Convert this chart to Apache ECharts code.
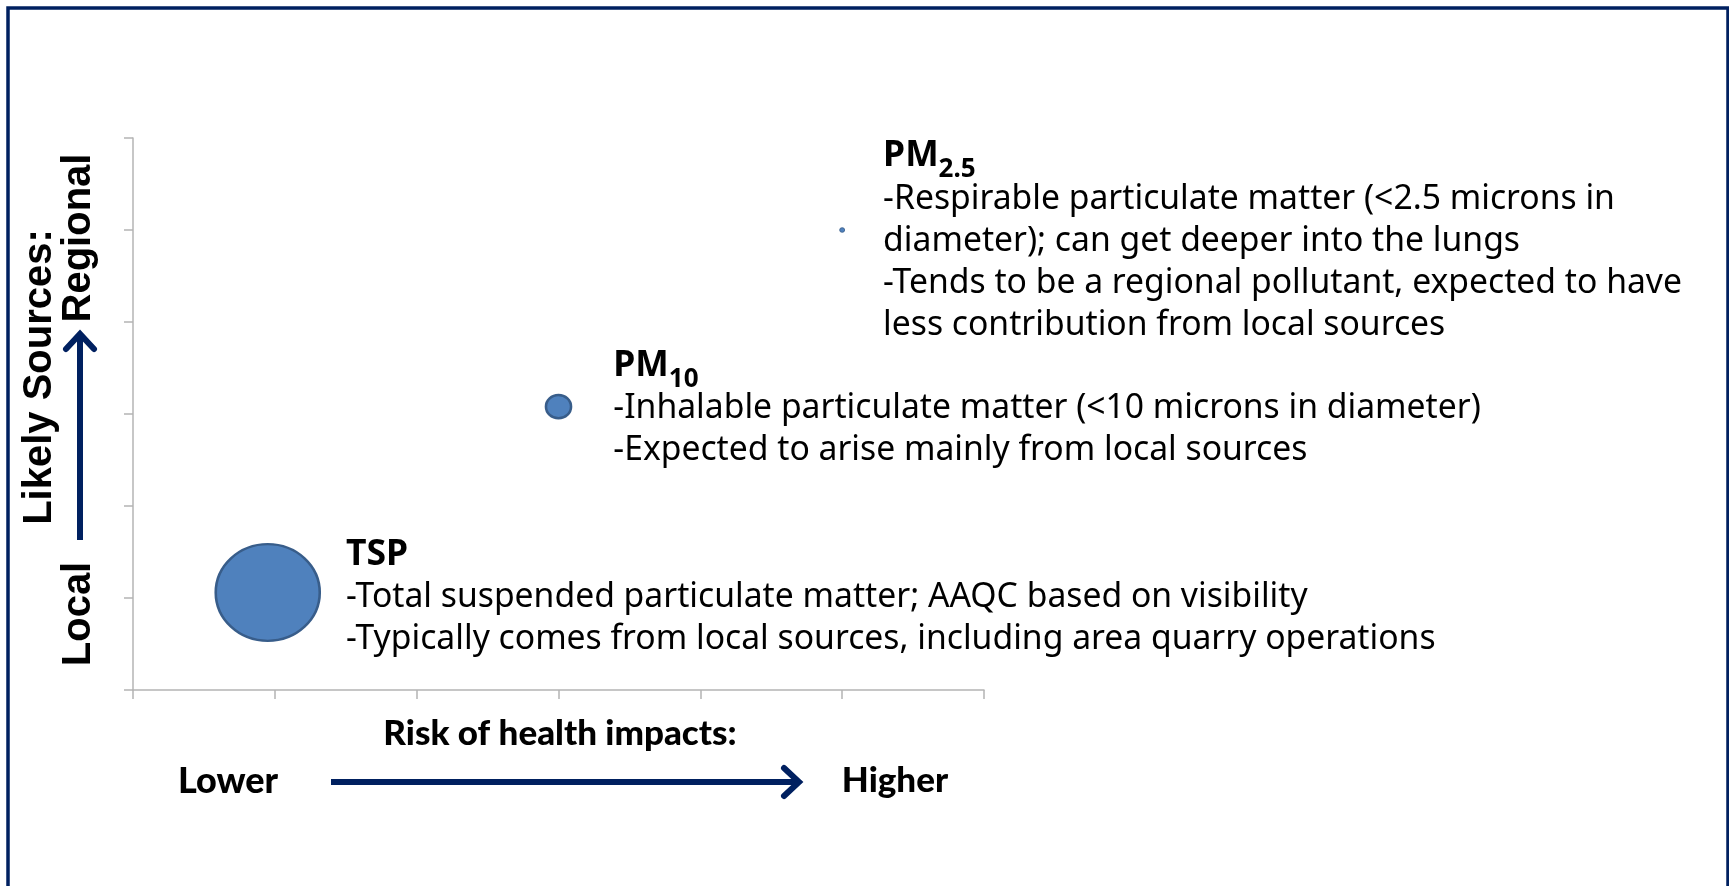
<!DOCTYPE html>
<html>
<head>
<meta charset="utf-8">
<title>Particulate matter: health risk vs. likely sources</title>
<script src="https://cdn.jsdelivr.net/npm/echarts@6/dist/echarts.min.js"></script>
<style>
  html, body { margin: 0; padding: 0; background: #ffffff; }
  #chart { width: 1729px; height: 886px; }
</style>
</head>
<body>
<div id="chart"></div>
<script>
// Pollutant categories and their placement on the two qualitative axes
const categories = ['TSP', 'PM10', 'PM2.5'];
const titleMain = ['TSP', 'PM', 'PM'];
const titleSub = ['', '10', '2.5'];
// x: risk of health impacts (lower -> higher), y: likely sources (local -> regional)
const riskX = [0.95, 3.0, 5.0];
const sourceY = [1.06, 3.08, 5.0];
// relative bubble magnitude (area)
const bubbleMagnitude = [100, 5.8, 0.23];
const descriptions = [
  ['-Total suspended particulate matter; AAQC based on visibility',
   '-Typically comes from local sources, including area quarry operations'],
  ['-Inhalable particulate matter (<10 microns in diameter)',
   '-Expected to arise mainly from local sources'],
  ['-Respirable particulate matter (<2.5 microns in',
   'diameter); can get deeper into the lungs',
   '-Tends to be a regional pollutant, expected to have',
   'less contribution from local sources']
];
// axis scale (no tick labels are drawn)
const axisMin = 0;
const axisMax = 6;
const axisStep = 1;
const xTitle = 'Risk of health impacts:';
const xLow = 'Lower';
const xHigh = 'Higher';
const yTitle = 'Likely Sources:';
const yLow = 'Local';
const yHigh = 'Regional';

// label placement next to each bubble: [gap from bubble edge, vertical nudge]
const labelNudge = [[25, 6], [41, 3], [38, 12]];

const navy = '#002060';
const axisGray = '#b4b4b4';
const bodyFont = "'Noto Sans', 'Open Sans', sans-serif";
const captionFont = "Lato, 'Noto Sans', sans-serif";
const arialBold = "'Liberation Sans', Arial, sans-serif";

const chart = echarts.init(document.getElementById('chart'), null, { renderer: 'canvas' });

// bubble area follows the magnitude; drawn slightly flattened like the source graphic
const bubbleDiameter = (m) => Math.sqrt(m) * 10.4;
const bubbleSize = (m) => { const d = bubbleDiameter(m); return [d, d * 0.93]; };

const seriesData = categories.map((name, i) => {
  const d = bubbleDiameter(bubbleMagnitude[i]);
  const head = '{t|' + titleMain[i] + '}' + (titleSub[i] ? '{s|' + titleSub[i] + '}' : '');
  const body = descriptions[i].map((line) => '{b|' + line + '}').join('\n');
  return {
    name: name,
    value: [riskX[i], sourceY[i], bubbleMagnitude[i]],
    itemStyle: { borderWidth: Math.min(2.5, d / 6) },
    label: {
      distance: labelNudge[i][0],
      offset: [0, labelNudge[i][1]],
      formatter: head + '\n' + body
    }
  };
});

const axisCommon = {
  type: 'value',
  min: axisMin,
  max: axisMax,
  interval: axisStep,
  axisLine: { show: true, onZero: false, lineStyle: { color: axisGray, width: 1.5 } },
  axisTick: { show: true, inside: false, length: 9, lineStyle: { color: axisGray, width: 1.5 } },
  axisLabel: { show: false },
  splitLine: { show: false }
};

const centered = { align: 'center', verticalAlign: 'middle', textAlign: 'center', textVerticalAlign: 'middle', fill: '#000' };

const option = {
  animation: false,
  backgroundColor: '#ffffff',
  grid: { left: 133, top: 138, width: 851, height: 552, outerBoundsMode: 'none' },
  xAxis: Object.assign({}, axisCommon),
  yAxis: Object.assign({}, axisCommon),
  series: [{
    type: 'scatter',
    data: seriesData,
    symbol: 'circle',
    symbolSize: (val) => bubbleSize(val[2]),
    itemStyle: { color: '#4f81bd', borderColor: '#385d8a', opacity: 1 },
    emphasis: { disabled: true },
    label: {
      show: true,
      position: 'right',
      align: 'left',
      verticalAlign: 'middle',
      rich: {
        t: { fontFamily: bodyFont, fontSize: 35.5, fontWeight: 'bold', color: '#000', lineHeight: 40, verticalAlign: 'top' },
        s: { fontFamily: bodyFont, fontSize: 26, fontWeight: 'bold', color: '#000', lineHeight: 26, padding: [19, 0, 0, 0], verticalAlign: 'top' },
        b: { fontFamily: bodyFont, fontSize: 33.7, color: '#000', lineHeight: 42 }
      }
    }
  }],
  graphic: [
    // outer frame
    { type: 'rect', shape: { x: 8, y: 8, width: 1720, height: 900 },
      style: { fill: null, stroke: navy, lineWidth: 3.5 }, silent: true },
    // vertical axis caption
    { type: 'text', x: 40, y: 377, rotation: Math.PI / 2,
      style: Object.assign({ text: yTitle, font: 'bold 40px ' + arialBold }, centered) },
    { type: 'text', x: 79, y: 238, rotation: Math.PI / 2,
      style: Object.assign({ text: yHigh, font: 'bold 40px ' + arialBold }, centered) },
    { type: 'text', x: 79, y: 614, rotation: Math.PI / 2,
      style: Object.assign({ text: yLow, font: 'bold 40px ' + arialBold }, centered) },
    { type: 'line', shape: { x1: 80, y1: 540, x2: 80, y2: 334 },
      style: { stroke: navy, lineWidth: 6 } },
    { type: 'polyline', shape: { points: [[66, 349], [80, 334], [94, 349]] },
      style: { fill: null, stroke: navy, lineWidth: 6, lineCap: 'round', lineJoin: 'miter' } },
    // horizontal axis caption
    { type: 'text', x: 560, y: 734,
      style: Object.assign({ text: xTitle, font: '900 35px ' + captionFont }, centered) },
    { type: 'text', x: 228, y: 781,
      style: Object.assign({ text: xLow, font: '900 36px ' + captionFont }, centered) },
    { type: 'text', x: 895, y: 781,
      style: Object.assign({ text: xHigh, font: '900 35px ' + captionFont }, centered) },
    { type: 'line', shape: { x1: 331, y1: 782, x2: 798, y2: 782 },
      style: { stroke: navy, lineWidth: 6 } },
    { type: 'polyline', shape: { points: [[784, 768], [799, 782], [784, 796]] },
      style: { fill: null, stroke: navy, lineWidth: 6, lineCap: 'round', lineJoin: 'miter' } }
  ]
};

chart.setOption(option);
</script>
</body>
</html>
